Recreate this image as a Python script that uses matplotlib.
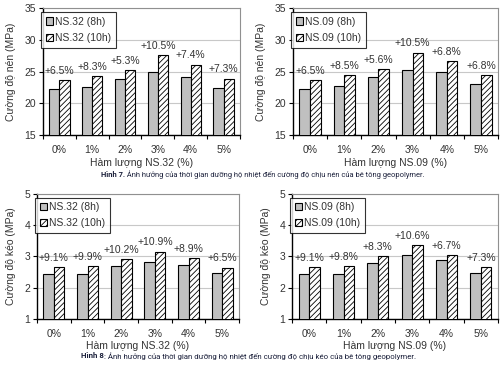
import numpy as np
import matplotlib
matplotlib.use("Agg")
import matplotlib.pyplot as plt
from matplotlib import font_manager

plt.rcParams["font.family"] = ["Liberation Sans", "DejaVu Sans"]
plt.rcParams["hatch.linewidth"] = 0.6

levels = ["0%", "1%", "2%", "3%", "4%", "5%"]

# compressive strength (MPa)
nen_ns32_8h = [22.3, 22.5, 23.9, 25.0, 24.2, 22.4]
nen_ns32_10h = [23.6, 24.3, 25.2, 27.6, 26.1, 23.9]
nen_ns32_pct = ["+6.5%", "+8.3%", "+5.3%", "+10.5%", "+7.4%", "+7.3%"]

nen_ns09_8h = [22.3, 22.7, 24.1, 25.3, 24.9, 23.1]
nen_ns09_10h = [23.6, 24.5, 25.4, 28.0, 26.6, 24.5]
nen_ns09_pct = ["+6.5%", "+8.5%", "+5.6%", "+10.5%", "+6.8%", "+6.8%"]

# tensile strength (MPa)
keo_ns32_8h = [2.43, 2.45, 2.68, 2.83, 2.71, 2.48]
keo_ns32_10h = [2.65, 2.68, 2.91, 3.15, 2.95, 2.64]
keo_ns32_pct = ["+9.1%", "+9.9%", "+10.2%", "+10.9%", "+8.9%", "+6.5%"]

keo_ns09_8h = [2.43, 2.45, 2.78, 3.03, 2.87, 2.48]
keo_ns09_10h = [2.65, 2.68, 3.00, 3.37, 3.05, 2.65]
keo_ns09_pct = ["+9.1%", "+9.8%", "+8.3%", "+10.6%", "+6.7%", "+7.3%"]

cap7_head = "Hình 7."
cap7_body = " Ảnh hưởng của thời gian dưỡng hộ nhiệt đến cường độ chịu nén của bê tông geopolymer."
cap8_head = "Hình 8"
cap8_body = ": Ảnh hưởng của thời gian dưỡng hộ nhiệt đến cường độ chịu kéo của bê tông geopolymer."

TXT = "#333333"
FS = 7.5


def panel(ax, v8, v10, pcts, name, ylabel, ylim, yticks):
    x = np.arange(len(levels))
    w = 0.31
    ax.bar(x - w / 2, v8, w, color="#c0c0c0", edgecolor="black", linewidth=0.8,
           label=f"{name} (8h)", zorder=3)
    ax.bar(x + w / 2, v10, w, color="white", edgecolor="black", linewidth=0.8,
           hatch="//////", label=f"{name} (10h)", zorder=3)
    for i, p in enumerate(pcts):
        top = max(v8[i], v10[i])
        ax.annotate(p, (x[i], top), xytext=(0, 3), textcoords="offset points",
                    ha="center", va="bottom", fontsize=FS, color=TXT)
    ax.set_xlim(-0.5, len(levels) - 0.5)
    ax.set_ylim(*ylim)
    ax.set_yticks(yticks)
    ax.set_xticks(x)
    ax.set_xticklabels(levels)
    ax.set_xticks(np.arange(-0.5, len(levels)), minor=True)
    ax.tick_params(axis="x", which="major", length=0, pad=7, labelsize=FS, labelcolor=TXT)
    ax.tick_params(axis="x", which="minor", length=3, direction="out", width=0.8)
    ax.tick_params(axis="y", length=3, direction="out", width=0.8, labelsize=FS,
                   labelcolor=TXT, pad=2)
    ax.grid(axis="y", color="#c8c8c8", linewidth=0.8, zorder=0)
    ax.set_axisbelow(True)
    for s in ["top", "right"]:
        ax.spines[s].set_color("#909090")
        ax.spines[s].set_linewidth(0.8)
    for s in ["left", "bottom"]:
        ax.spines[s].set_linewidth(1.0)
    ax.set_xlabel(f"Hàm lượng {name} (%)", fontsize=FS, color=TXT, labelpad=2)
    ax.set_ylabel(ylabel, fontsize=FS, color=TXT, labelpad=6)
    leg = ax.legend(loc="upper left", bbox_to_anchor=(-0.01, 0.97), fontsize=FS,
                    frameon=True, fancybox=False, edgecolor="black",
                    handlelength=0.7, handleheight=0.7, handletextpad=0.2,
                    borderpad=0.45, labelspacing=0.6, borderaxespad=0.0)
    leg.get_frame().set_linewidth(0.8)
    for t in leg.get_texts():
        t.set_color(TXT)


fig = plt.figure(figsize=(5, 3.67), dpi=100)

ax1 = fig.add_axes([0.086, 0.632, 0.394, 0.346])
ax2 = fig.add_axes([0.586, 0.632, 0.41, 0.346])
ax3 = fig.add_axes([0.074, 0.131, 0.404, 0.341])
ax4 = fig.add_axes([0.584, 0.131, 0.412, 0.341])

panel(ax1, nen_ns32_8h, nen_ns32_10h, nen_ns32_pct, "NS.32",
      "Cường độ nén (MPa)", (15, 35), [15, 20, 25, 30, 35])
panel(ax2, nen_ns09_8h, nen_ns09_10h, nen_ns09_pct, "NS.09",
      "Cường độ nén (MPa)", (15, 35), [15, 20, 25, 30, 35])
panel(ax3, keo_ns32_8h, keo_ns32_10h, keo_ns32_pct, "NS.32",
      "Cường độ kéo (MPa)", (1, 5), [1, 2, 3, 4, 5])
panel(ax4, keo_ns09_8h, keo_ns09_10h, keo_ns09_pct, "NS.09",
      "Cường độ kéo (MPa)", (1, 5), [1, 2, 3, 4, 5])

# captions: narrow font if available, squeezed to the width seen in the figure
names = {f.name for f in font_manager.fontManager.ttflist}
cap_font = ["Liberation Sans Narrow", "DejaVu Sans"] if "Liberation Sans Narrow" in names \
    else ["Roboto", "DejaVu Sans"]
CAP = "#1a1f3a"
renderer = fig.canvas.get_renderer()


def caption(x0, ypix, head, body, width_px):
    # measure at a reference size, then draw at the scaled size
    probe1 = fig.text(0, 0, head, fontsize=10, fontweight="bold", family=cap_font)
    probe2 = fig.text(0, 0, body, fontsize=10, family=cap_font)
    total = probe1.get_window_extent(renderer).width + probe2.get_window_extent(renderer).width
    probe1.remove()
    probe2.remove()
    fs = 10 * width_px / total
    t1 = fig.text(x0 / 500, 1 - ypix / 367, head, fontsize=fs, fontweight="bold",
                  family=cap_font, color=CAP, ha="left", va="center")
    w1 = t1.get_window_extent(renderer).width
    fig.text((x0 + w1) / 500, 1 - ypix / 367, body, fontsize=fs,
             family=cap_font, color=CAP, ha="left", va="center")


caption(101, 175, cap7_head, cap7_body, 320)
caption(81, 356, cap8_head, cap8_body, 338)

fig.savefig("out.png", dpi=100)
